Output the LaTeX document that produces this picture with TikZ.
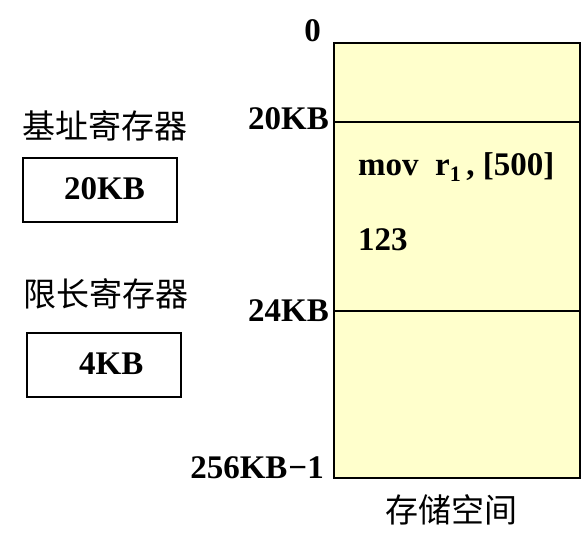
\documentclass[tikz,border=0pt]{standalone}
\usepackage{fontspec}
\setmainfont{Liberation Serif}
\newfontfamily\cjk{Noto Sans CJK SC}
\definecolor{memfill}{HTML}{FFFFCC}
\tikzset{
  lbl/.style={font=\fontsize{33}{33}\selectfont\bfseries, inner sep=0pt},
  cjklbl/.style={font=\fontsize{33}{33}\selectfont\cjk, inner sep=0pt},
  regbox/.style={draw, line width=2pt, minimum width=154pt, minimum height=64pt, inner sep=0pt},
  memline/.style={line width=2pt}
}
\begin{document}
\begin{tikzpicture}[x=1pt,y=-1pt]
\useasboundingbox (0,0) rectangle (582,549);
% memory block
\node[draw, line width=2pt, fill=memfill, minimum width=246pt, minimum height=435pt, inner sep=0pt, anchor=north west] (mem) at (333,42) {};
\coordinate (l20) at (333,122);
\coordinate (r20) at (579,122);
\coordinate (l24) at (333,311);
\coordinate (r24) at (579,311);
\draw[memline] (l20) -- (r20);
\draw[memline] (l24) -- (r24);
% address labels
\node[lbl, anchor=base east] (a0) at (321,41) {0};
\node[lbl, anchor=base east] (a20) at (329,129) {20KB};
\node[lbl, anchor=base east] (a24) at (329,321) {24KB};
\node[lbl, anchor=base east] (a256) at (324,478) {256KB\kern1pt\textminus1};
% contents
\node[lbl, anchor=base west] (instr) at (358,175) {mov\ \ r\raisebox{-6pt}{\fontsize{22}{22}\selectfont 1}\,, [500]};
\node[lbl, anchor=base west] (val) at (358,250) {123};
% caption
\node[cjklbl, anchor=center] (cap) at (451,510) {存储空间};
% registers
\node[cjklbl, anchor=center] (bname) at (105,126) {基址寄存器};
\node[regbox, anchor=north west] (breg) at (22,157) {};
\node[lbl, anchor=base west] (bval) at (64,199) {20KB};
\node[cjklbl, anchor=center] (lname) at (106,294) {限长寄存器};
\node[regbox, anchor=north west] (lreg) at (26,332) {};
\node[lbl, anchor=base west] (lval) at (79,374) {4KB};
\end{tikzpicture}
\end{document}
